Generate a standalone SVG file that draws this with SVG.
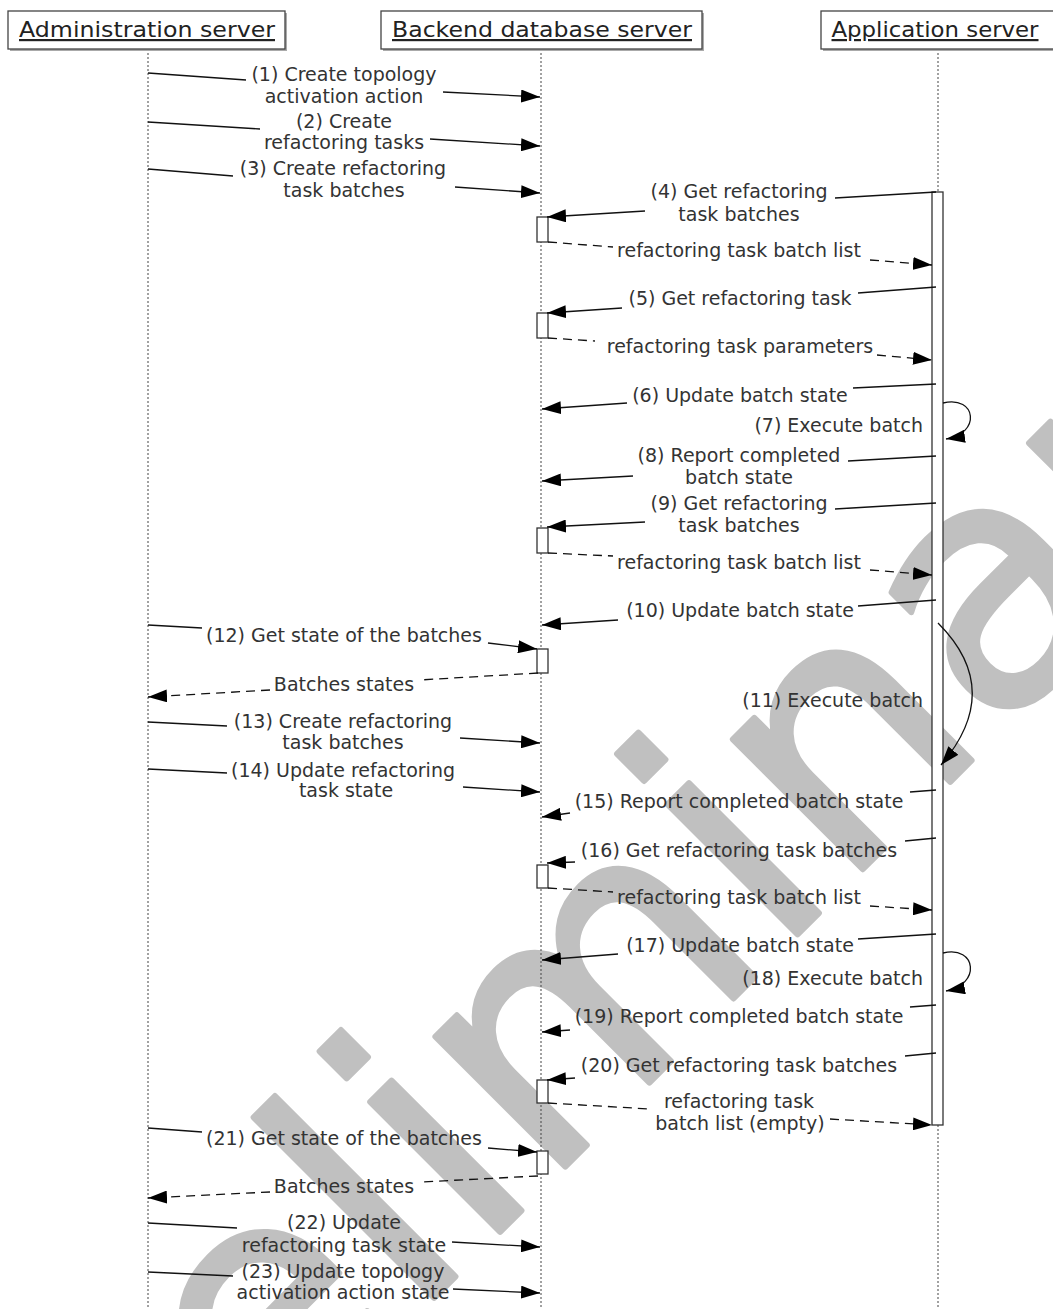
<svg xmlns="http://www.w3.org/2000/svg" width="1053" height="1309" viewBox="0 0 1053 1309">
<defs>
<style>
.wm{font-family:"DejaVu Sans",Verdana,sans-serif;font-size:336px;fill:#c0c0c0;stroke:#c0c0c0;stroke-width:6;stroke-linejoin:round}
.lbl{font-family:"DejaVu Sans",Verdana,sans-serif;font-size:19px;fill:#333;text-anchor:middle}
.lbr{font-family:"DejaVu Sans",Verdana,sans-serif;font-size:19px;fill:#333;text-anchor:end}
.hdr{font-family:"DejaVu Sans",Verdana,sans-serif;font-size:22px;fill:#222;text-anchor:middle;text-decoration:underline}
.box{fill:#fff;stroke:#444;stroke-width:1.3}
.shd{fill:#aaa}
.life{stroke:#444;stroke-width:1;stroke-dasharray:2 2;fill:none}
.act{fill:#fff;stroke:#333;stroke-width:1.3}
.msg{fill:none;stroke:#111;stroke-width:1.3}
.ret{fill:none;stroke:#111;stroke-width:1.3;stroke-dasharray:9 6}
</style>
<marker id="ah" markerWidth="19" markerHeight="13" refX="19" refY="6.5" orient="auto" markerUnits="userSpaceOnUse">
<path d="M0,0 L19,6.5 L0,13 z" fill="#000"/>
</marker>
</defs>
<rect width="1053" height="1309" fill="#fff"/>
<text class="wm" transform="translate(34,1698) rotate(-45)">Preliminary</text>

<g id="lifelines">
<line class="life" x1="148" y1="49" x2="148" y2="1309"/>
<line class="life" x1="541" y1="49" x2="541" y2="1309"/>
<line class="life" x1="938" y1="49" x2="938" y2="1309"/>
</g>

<g id="app-activation"><rect class="act" x="932" y="192" width="11" height="933"/></g>
<g id="db-act-1"><rect class="act" x="537" y="217" width="11" height="25"/></g>
<g id="db-act-2"><rect class="act" x="537" y="313" width="11" height="25"/></g>
<g id="db-act-3"><rect class="act" x="537" y="528" width="11" height="25"/></g>
<g id="db-act-4"><rect class="act" x="537" y="649" width="11" height="24"/></g>
<g id="db-act-5"><rect class="act" x="537" y="865" width="11" height="23"/></g>
<g id="db-act-6"><rect class="act" x="537" y="1080" width="11" height="23"/></g>
<g id="db-act-7"><rect class="act" x="537" y="1151" width="11" height="23"/></g>

<g id="connectors">
<path class="msg" d="M148,73 L246,80"/><path class="msg" d="M443,92 L540,97" marker-end="url(#ah)"/>
<path class="msg" d="M148,122 L260,129"/><path class="msg" d="M430,139 L540,146" marker-end="url(#ah)"/>
<path class="msg" d="M148,169 L233,176"/><path class="msg" d="M455,187 L540,193" marker-end="url(#ah)"/>
<path class="msg" d="M936,192 L835,198"/><path class="msg" d="M645,211 L547,217" marker-end="url(#ah)"/>
<path class="ret" d="M548,242 L613,247"/><path class="ret" d="M870,260 L932,265" marker-end="url(#ah)"/>
<path class="msg" d="M936,287 L858,293"/><path class="msg" d="M622,308 L547,313" marker-end="url(#ah)"/>
<path class="ret" d="M548,338 L595,341"/><path class="ret" d="M877,355 L932,360" marker-end="url(#ah)"/>
<path class="msg" d="M936,384 L853,388"/><path class="msg" d="M627,403 L542,409" marker-end="url(#ah)"/>
<path class="msg" d="M943,403 C977,395 981,434 946,439" marker-end="url(#ah)"/>
<path class="msg" d="M936,456 L848,461"/><path class="msg" d="M633,476 L542,481" marker-end="url(#ah)"/>
<path class="msg" d="M936,503 L835,509"/><path class="msg" d="M645,522 L547,527" marker-end="url(#ah)"/>
<path class="ret" d="M548,553 L613,556"/><path class="ret" d="M870,570 L932,575" marker-end="url(#ah)"/>
<path class="msg" d="M936,600 L858,606"/><path class="msg" d="M618,620 L542,625" marker-end="url(#ah)"/>
<path class="msg" d="M938,623 Q1005,690 941,765" marker-end="url(#ah)"/>
<path class="msg" d="M148,625 L202,628"/><path class="msg" d="M488,643 L537,649" marker-end="url(#ah)"/>
<path class="ret" d="M538,673 L420,680"/><path class="ret" d="M270,690 L148,697" marker-end="url(#ah)"/>
<path class="msg" d="M148,722 L227,726"/><path class="msg" d="M460,738 L540,743" marker-end="url(#ah)"/>
<path class="msg" d="M148,769 L227,773"/><path class="msg" d="M463,787 L540,792" marker-end="url(#ah)"/>
<path class="msg" d="M936,790 L910,792"/><path class="msg" d="M570,813 L542,817" marker-end="url(#ah)"/>
<path class="msg" d="M936,838 L905,841"/><path class="msg" d="M575,862 L547,863" marker-end="url(#ah)"/>
<path class="ret" d="M548,888 L613,892"/><path class="ret" d="M870,906 L932,910" marker-end="url(#ah)"/>
<path class="msg" d="M936,934 L858,939"/><path class="msg" d="M618,954 L542,960" marker-end="url(#ah)"/>
<path class="msg" d="M943,953 C977,945 981,985 946,991" marker-end="url(#ah)"/>
<path class="msg" d="M936,1005 L910,1007"/><path class="msg" d="M570,1030 L542,1032" marker-end="url(#ah)"/>
<path class="msg" d="M936,1053 L905,1056"/><path class="msg" d="M575,1078 L547,1080" marker-end="url(#ah)"/>
<path class="ret" d="M548,1103 L650,1109"/><path class="ret" d="M830,1119 L932,1125" marker-end="url(#ah)"/>
<path class="msg" d="M148,1128 L202,1132"/><path class="msg" d="M488,1148 L537,1152" marker-end="url(#ah)"/>
<path class="ret" d="M538,1176 L420,1182"/><path class="ret" d="M270,1192 L148,1198" marker-end="url(#ah)"/>
<path class="msg" d="M148,1223 L237,1228"/><path class="msg" d="M452,1242 L540,1247" marker-end="url(#ah)"/>
<path class="msg" d="M148,1272 L233,1276"/><path class="msg" d="M453,1289 L540,1293" marker-end="url(#ah)"/>
</g>

<g id="labels">
<text class="lbl" x="344" y="81">(1) Create topology</text>
<text class="lbl" x="344" y="103">activation action</text>
<text class="lbl" x="344" y="128">(2) Create</text>
<text class="lbl" x="344" y="149">refactoring tasks</text>
<text class="lbl" x="343" y="175">(3) Create refactoring</text>
<text class="lbl" x="344" y="197">task batches</text>
<text class="lbl" x="739" y="198">(4) Get refactoring</text>
<text class="lbl" x="739" y="221">task batches</text>
<text class="lbl" x="739" y="257">refactoring task batch list</text>
<text class="lbl" x="740" y="305">(5) Get refactoring task</text>
<text class="lbl" x="740" y="353">refactoring task parameters</text>
<text class="lbl" x="740" y="402">(6) Update batch state</text>
<text class="lbr" x="923" y="432">(7) Execute batch</text>
<text class="lbl" x="739" y="462">(8) Report completed</text>
<text class="lbl" x="739" y="484">batch state</text>
<text class="lbl" x="739" y="510">(9) Get refactoring</text>
<text class="lbl" x="739" y="532">task batches</text>
<text class="lbl" x="739" y="569">refactoring task batch list</text>
<text class="lbl" x="740" y="617">(10) Update batch state</text>
<text class="lbr" x="923" y="707">(11) Execute batch</text>
<text class="lbl" x="344" y="642">(12) Get state of the batches</text>
<text class="lbl" x="344" y="691">Batches states</text>
<text class="lbl" x="343" y="728">(13) Create refactoring</text>
<text class="lbl" x="343" y="749">task batches</text>
<text class="lbl" x="343" y="777">(14) Update refactoring</text>
<text class="lbl" x="346" y="797">task state</text>
<text class="lbl" x="739" y="808">(15) Report completed batch state</text>
<text class="lbl" x="739" y="857">(16) Get refactoring task batches</text>
<text class="lbl" x="739" y="904">refactoring task batch list</text>
<text class="lbl" x="740" y="952">(17) Update batch state</text>
<text class="lbr" x="923" y="985">(18) Execute batch</text>
<text class="lbl" x="739" y="1023">(19) Report completed batch state</text>
<text class="lbl" x="739" y="1072">(20) Get refactoring task batches</text>
<text class="lbl" x="739" y="1108">refactoring task</text>
<text class="lbl" x="740" y="1130">batch list (empty)</text>
<text class="lbl" x="344" y="1145">(21) Get state of the batches</text>
<text class="lbl" x="344" y="1193">Batches states</text>
<text class="lbl" x="344" y="1229">(22) Update</text>
<text class="lbl" x="344" y="1252">refactoring task state</text>
<text class="lbl" x="343" y="1278">(23) Update topology</text>
<text class="lbl" x="343" y="1299">activation action state</text>
</g>

<g id="admin-server">
<rect class="shd" x="10" y="13" width="277" height="38"/>
<rect class="box" x="8" y="11" width="277" height="38"/>
<text class="hdr" x="147" y="37" textLength="256" lengthAdjust="spacingAndGlyphs">Administration server</text>
</g>
<g id="backend-db-server">
<rect class="shd" x="383" y="13" width="321" height="38"/>
<rect class="box" x="381" y="11" width="321" height="38"/>
<text class="hdr" x="542" y="37" textLength="300" lengthAdjust="spacingAndGlyphs">Backend database server</text>
</g>
<g id="application-server">
<rect class="shd" x="823" y="13" width="240" height="38"/>
<rect class="box" x="821" y="11" width="240" height="38"/>
<text class="hdr" x="935" y="37" textLength="207" lengthAdjust="spacingAndGlyphs">Application server</text>
</g>
</svg>
